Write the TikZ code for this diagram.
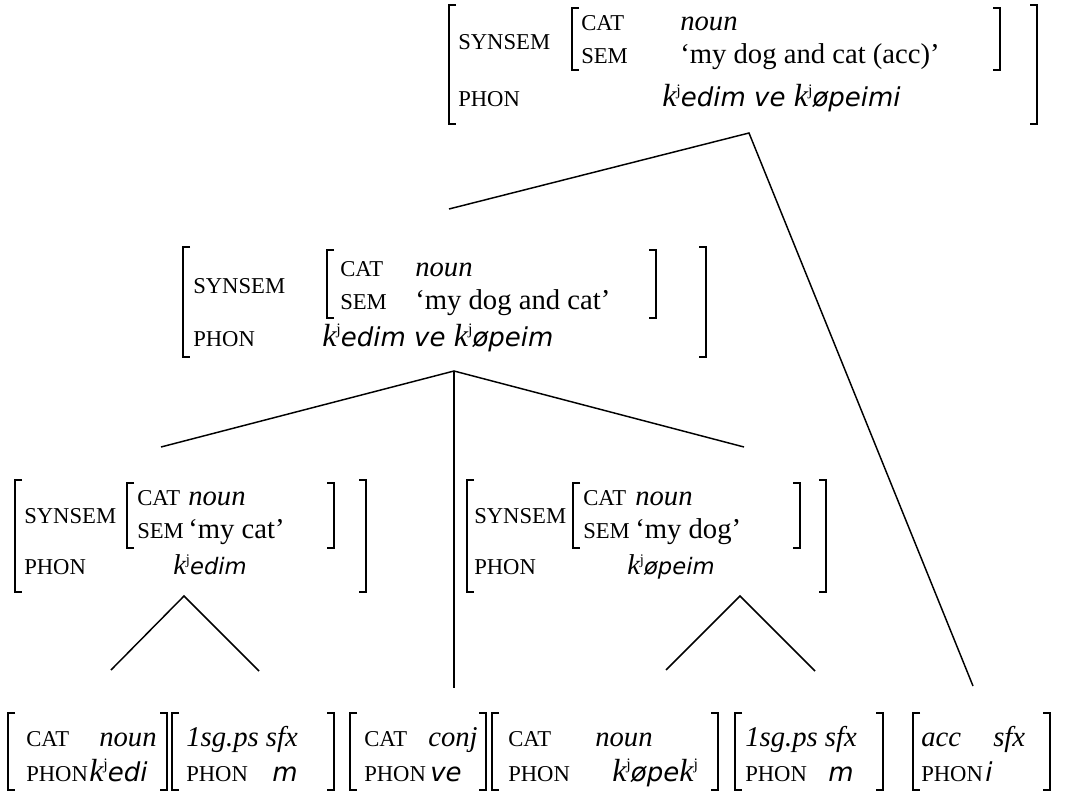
\documentclass[tikz,border=0pt]{standalone}
\usepackage{fontspec}
\setmainfont{Liberation Serif}
\newfontfamily\phonfont{DejaVu Sans Oblique}
\tikzset{
  txt/.style={anchor=base west,inner sep=0pt,font=\fontsize{21.5}{25}\selectfont},
  feat/.style={anchor=base west,inner sep=0pt,font=\fontsize{17}{20}\selectfont},
  brk/.style={line width=0.9pt},
  edge/.style={line width=1.1pt},
}
% phonological forms, large and small cut:
% \kj = palatalised k (italic k with a raised j)
\newcommand\kj{{\fontsize{24}{28}\selectfont\itshape k}\raisebox{8.5pt}{\fontsize{12}{12}\selectfont j}}
\newcommand\ph[1]{{\phonfont\fontsize{19.5}{23}\selectfont #1}}
\newcommand\kjs{{\fontsize{21.5}{25}\selectfont\itshape k}\raisebox{7.5pt}{\fontsize{11}{11}\selectfont j}}
\newcommand\phs[1]{{\phonfont\fontsize{17}{20}\selectfont #1}}
% square brackets: x, top y, bottom y
\newcommand\lbrk[3]{\draw[brk] (#1+7,#2) -- (#1,#2) -- (#1,#3) -- (#1+7,#3);}
\newcommand\rbrk[3]{\draw[brk] (#1-7,#2) -- (#1,#2) -- (#1,#3) -- (#1-7,#3);}
\begin{document}
\begin{tikzpicture}[x=0.75pt,y=-0.75pt]
\useasboundingbox (0,0) rectangle (1067,792);

% ---- root: my dog and cat (acc)
\lbrk{449}{5}{124} \rbrk{1037}{5}{124}
\node[feat] (t-synsem) at (458,50) {SYNSEM};
\lbrk{572}{8}{70} \rbrk{1000}{8}{70}
\node[feat] (t-cat) at (581,31) {CAT};
\node[txt] (t-catv) at (680,31) {\itshape noun};
\node[feat] (t-sem) at (581,64) {SEM};
\node[txt] (t-semv) at (680,64) {‘my dog and cat (acc)’};
\node[feat] (t-phon) at (458,107) {PHON};
\node[txt] (t-phonv) at (662,107) {\kj\ph{edim ve }\kj\ph{øpeimi}};

% ---- coordination: my dog and cat
\lbrk{183}{247}{357} \rbrk{706}{247}{357}
\node[feat] (m-synsem) at (193,293) {SYNSEM};
\lbrk{327}{250}{318} \rbrk{656}{250}{318}
\node[feat] (m-cat) at (340,276) {CAT};
\node[txt] (m-catv) at (415,276) {\itshape noun};
\node[feat] (m-sem) at (340,309) {SEM};
\node[txt] (m-semv) at (415,309) {‘my dog and cat’};
\node[feat] (m-phon) at (193,346) {PHON};
\node[txt] (m-phonv) at (322,346) {\kj\ph{edim ve }\kj\ph{øpeim}};

% ---- my cat
\lbrk{15}{480}{592} \rbrk{366}{480}{592}
\node[feat] (l-synsem) at (24,523) {SYNSEM};
\lbrk{127}{483}{548} \rbrk{334}{483}{548}
\node[feat] (l-cat) at (137,505) {CAT};
\node[txt] (l-catv) at (188,505) {\itshape noun};
\node[feat] (l-sem) at (137,538) {SEM};
\node[txt] (l-semv) at (188,538) {‘my cat’};
\node[feat] (l-phon) at (24,574) {PHON};
\node[txt] (l-phonv) at (173,574) {\kjs\phs{edim}};

% ---- my dog
\lbrk{467}{480}{592} \rbrk{826}{480}{592}
\node[feat] (r-synsem) at (474,523) {SYNSEM};
\lbrk{573}{483}{548} \rbrk{800}{483}{548}
\node[feat] (r-cat) at (583,505) {CAT};
\node[txt] (r-catv) at (635,505) {\itshape noun};
\node[feat] (r-sem) at (583,538) {SEM};
\node[txt] (r-semv) at (635,538) {‘my dog’};
\node[feat] (r-phon) at (474,574) {PHON};
\node[txt] (r-phonv) at (627,574) {\kjs\phs{øpeim}};

% ---- leaves
\lbrk{8}{713}{790} \rbrk{167}{713}{790}
\node[feat] (b1-cat) at (26,746) {CAT};
\node[txt] (b1-catv) at (99,746) {\itshape noun};
\node[feat] (b1-phon) at (26,781) {PHON};
\node[txt] (b1-phonv) at (89,781) {\kj\ph{edi}};

\lbrk{172}{713}{790} \rbrk{334}{713}{790}
\node[txt] (b2-type) at (186,746) {\itshape 1sg.ps sfx};
\node[feat] (b2-phon) at (186,781) {PHON};
\node[txt] (b2-phonv) at (272,781) {\ph{m}};

\lbrk{350}{713}{790} \rbrk{486}{713}{790}
\node[feat] (b3-cat) at (364,746) {CAT};
\node[txt] (b3-catv) at (428,746) {\itshape conj};
\node[feat] (b3-phon) at (364,781) {PHON};
\node[txt] (b3-phonv) at (430,781) {\ph{ve}};

\lbrk{492}{713}{790} \rbrk{718}{713}{790}
\node[feat] (b4-cat) at (508,746) {CAT};
\node[txt] (b4-catv) at (595,746) {\itshape noun};
\node[feat] (b4-phon) at (508,781) {PHON};
\node[txt] (b4-phonv) at (612,781) {\kj\ph{øpe}\kj};

\lbrk{735}{713}{790} \rbrk{883}{713}{790}
\node[txt] (b5-type) at (745,746) {\itshape 1sg.ps sfx};
\node[feat] (b5-phon) at (745,781) {PHON};
\node[txt] (b5-phonv) at (828,781) {\ph{m}};

\lbrk{913}{713}{790} \rbrk{1050}{713}{790}
\node[txt] (b6-type) at (921,746) {\itshape acc};
\node[txt] (b6-sfx) at (993,746) {\itshape sfx};
\node[feat] (b6-phon) at (921,781) {PHON};
\node[txt] (b6-phonv) at (985,781) {\ph{i}};

% ---- tree branches
\coordinate (t-root) at (749,133);
\coordinate (m-up) at (449,209);
\coordinate (b6-up) at (973,686);
\coordinate (m-root) at (454,371);
\coordinate (l-up) at (161,447);
\coordinate (r-up) at (744,447);
\coordinate (b3-up) at (454,688);
\coordinate (l-root) at (184,596);
\coordinate (b1-up) at (111,670);
\coordinate (b2-up) at (259,671);
\coordinate (r-root) at (740,596);
\coordinate (b4-up) at (666,670);
\coordinate (b5-up) at (815,671);

\draw[edge] (m-up) -- (t-root) -- (b6-up);
\draw[edge] (l-up) -- (m-root) -- (r-up);
\draw[edge] (m-root) -- (b3-up);
\draw[edge] (b1-up) -- (l-root) -- (b2-up);
\draw[edge] (b4-up) -- (r-root) -- (b5-up);
\end{tikzpicture}
\end{document}
